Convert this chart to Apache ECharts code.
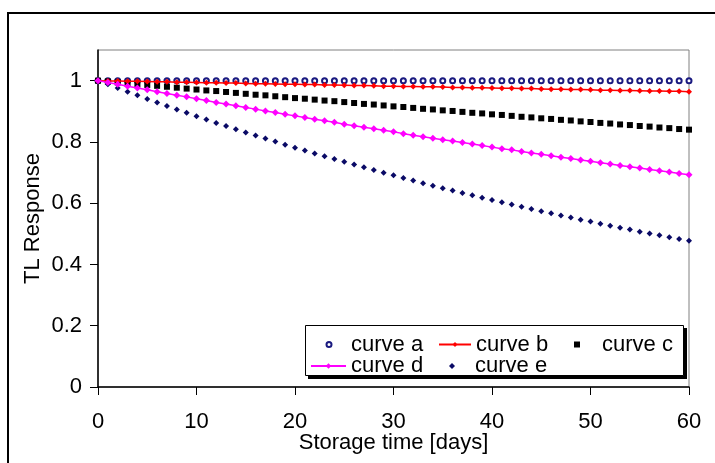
<!DOCTYPE html>
<html>
<head>
<meta charset="utf-8">
<script src="https://cdn.jsdelivr.net/npm/echarts@6/dist/echarts.min.js"></script>
<style>
html,body{margin:0;padding:0;background:#fff;}
#chart{width:715px;height:463px;}
</style>
</head>
<body>
<div id="chart"></div>
<script>
// Storage time [days]
var days = [0,1,2,3,4,5,6,7,8,9,10,11,12,13,14,15,16,17,18,19,20,21,22,23,24,25,26,27,28,29,30,
  31,32,33,34,35,36,37,38,39,40,41,42,43,44,45,46,47,48,49,50,51,52,53,54,55,56,57,58,59,60];

var curveA = [1,1,1,1,1,1,1,1,1,1,1,1,1,1,1,1,1,1,1,1,1,1,1,1,1,1,1,1,1,1,1,
  1,1,1,1,1,1,1,1,1,1,1,1,1,1,1,1,1,1,1,1,1,1,1,1,1,1,1,1,1,1];

var curveB = [1.000,0.999,0.999,0.998,0.998,0.997,0.996,0.996,0.995,0.995,0.994,0.993,0.993,0.992,0.992,0.991,
  0.990,0.990,0.989,0.988,0.988,0.987,0.987,0.986,0.986,0.985,0.984,0.984,0.983,0.982,0.982,
  0.981,0.981,0.980,0.980,0.979,0.978,0.978,0.977,0.977,0.976,0.975,0.975,0.974,0.974,0.973,
  0.972,0.972,0.971,0.971,0.970,0.969,0.969,0.968,0.968,0.967,0.966,0.966,0.965,0.965,0.964];

var curveC = [1.000,0.997,0.994,0.991,0.988,0.986,0.983,0.980,0.977,0.974,0.971,0.968,0.966,0.963,0.960,0.957,
  0.954,0.952,0.949,0.946,0.943,0.941,0.938,0.935,0.933,0.930,0.927,0.924,0.922,0.919,0.916,
  0.914,0.911,0.908,0.906,0.903,0.901,0.898,0.895,0.893,0.890,0.888,0.885,0.882,0.880,0.877,
  0.875,0.872,0.870,0.867,0.865,0.862,0.860,0.857,0.855,0.852,0.850,0.847,0.845,0.842,0.840];

var curveD = [1.000,0.994,0.988,0.982,0.976,0.970,0.964,0.958,0.952,0.947,0.941,0.935,0.929,0.924,0.918,0.912,
  0.907,0.901,0.896,0.890,0.885,0.880,0.874,0.869,0.864,0.858,0.853,0.848,0.843,0.838,0.833,
  0.827,0.822,0.817,0.812,0.807,0.803,0.798,0.793,0.788,0.783,0.778,0.774,0.769,0.764,0.760,
  0.755,0.750,0.746,0.741,0.737,0.732,0.728,0.723,0.719,0.715,0.710,0.706,0.702,0.697,0.693];

var curveE = [1.000,0.988,0.976,0.964,0.952,0.940,0.929,0.917,0.906,0.895,0.884,0.873,0.862,0.852,0.841,0.831,
  0.821,0.811,0.801,0.791,0.781,0.772,0.762,0.753,0.744,0.735,0.726,0.717,0.708,0.699,0.691,
  0.682,0.674,0.665,0.657,0.649,0.641,0.633,0.626,0.618,0.610,0.603,0.596,0.588,0.581,0.574,
  0.567,0.560,0.553,0.546,0.540,0.533,0.526,0.520,0.514,0.507,0.501,0.495,0.489,0.483,0.477];

var xTicks = [0,10,20,30,40,50,60];
var yTicks = [0,0.2,0.4,0.6,0.8,1];
var seriesNames = ['curve a','curve b','curve c','curve d','curve e'];
var xTitle = 'Storage time [days]';
var yTitle = 'TL Response';

function pairs(vals){ return days.map(function(d,i){ return [d, vals[i]]; }); }

var FONT = '"Liberation Sans", Arial, sans-serif';
var FS = 22;
var SQUARE = 'path://M0 0H10V10H0Z';
var DIAMOND = 'path://M5 0L10 5L5 10L0 5Z';
var chart = echarts.init(document.getElementById('chart'), null, {renderer:'canvas'});

function leg(item, left, top, w, h){
  return {
    data:[item], left:left, top:top, padding:0, itemWidth:w, itemHeight:h, z:20,
    selectedMode:false, orient:'horizontal', symbolKeepAspect:true,
    textStyle:{fontFamily:FONT, fontSize:FS, color:'#000'}
  };
}

chart.setOption({
  animation:false,
  backgroundColor:'#fff',
  textStyle:{fontFamily:FONT},
  grid:{left:98, right:26, top:50, bottom:76, show:true, borderColor:'#808080', borderWidth:1,
    backgroundColor:'transparent', containLabel:false, outerBoundsMode:'none'},
  graphic:[
    {type:'rect', z:1, silent:true, shape:{x:8, y:13, width:760, height:520}, style:{fill:'none', stroke:'#000', lineWidth:2}},
    {type:'rect', z:10, silent:true, shape:{x:308, y:328, width:379, height:51}, style:{fill:'#000'}},
    {type:'rect', z:11, silent:true, shape:{x:305.5, y:325.5, width:378, height:50},
      style:{fill:'#fff', stroke:'#000', lineWidth:1}},
    {type:'text', z:12, silent:true, x:393.5, y:443,
      style:{text:xTitle, fontFamily:FONT, fontSize:FS, fill:'#000', align:'center', verticalAlign:'middle'}}
  ],
  legend:[
    leg(seriesNames[0], 325.5, 333.5, 34, 5),
    leg(seriesNames[1], 438, 333.5, 32, 6),
    leg({name:seriesNames[2], icon:SQUARE}, 574, 333.5, 40, 6),
    leg(seriesNames[3], 310, 355, 35, 7),
    leg({name:seriesNames[4], icon:DIAMOND}, 449, 355, 36, 6)
  ],
  xAxis:{
    type:'value', min:0, max:60, interval:10,
    axisLine:{lineStyle:{color:'#000', width:1.5}},
    axisTick:{length:8, lineStyle:{color:'#000'}, customValues:xTicks},
    axisLabel:{fontFamily:FONT, fontSize:FS, color:'#000', margin:24, customValues:xTicks},
    splitLine:{show:false}
  },
  yAxis:{
    type:'value', min:0, max:1.1,
    name:yTitle, nameLocation:'middle', nameGap:54, nameRotate:90, nameMoveOverlap:false,
    nameTextStyle:{fontFamily:FONT, fontSize:FS, color:'#000'},
    axisLine:{show:true, lineStyle:{color:'#000', width:1.5}},
    axisTick:{show:true, length:8, lineStyle:{color:'#000'}, customValues:yTicks},
    axisLabel:{fontFamily:FONT, fontSize:FS, color:'#000', margin:16, customValues:yTicks},
    splitLine:{show:false}
  },
  series:[
    {name:seriesNames[0], type:'scatter', data:pairs(curveA), symbol:'emptyCircle', symbolSize:5,
      itemStyle:{color:'#1a1a80', borderColor:'#1a1a80', borderWidth:1, opacity:1}},
    {name:seriesNames[1], type:'line', data:pairs(curveB), symbol:'diamond', symbolSize:6, showAllSymbol:true,
      lineStyle:{color:'#ff0000', width:1.5}, itemStyle:{color:'#ff0000', opacity:1}},
    {name:seriesNames[2], type:'scatter', data:pairs(curveC), symbol:'rect', symbolSize:6,
      itemStyle:{color:'#000', opacity:1}},
    {name:seriesNames[3], type:'line', data:pairs(curveD), symbol:'diamond', symbolSize:7, showAllSymbol:true,
      lineStyle:{color:'#ff00ff', width:1.5}, itemStyle:{color:'#ff00ff', opacity:1}},
    {name:seriesNames[4], type:'scatter', data:pairs(curveE), symbol:'diamond', symbolSize:6,
      itemStyle:{color:'#0a0a66', opacity:1}}
  ]
});
</script>
</body>
</html>
